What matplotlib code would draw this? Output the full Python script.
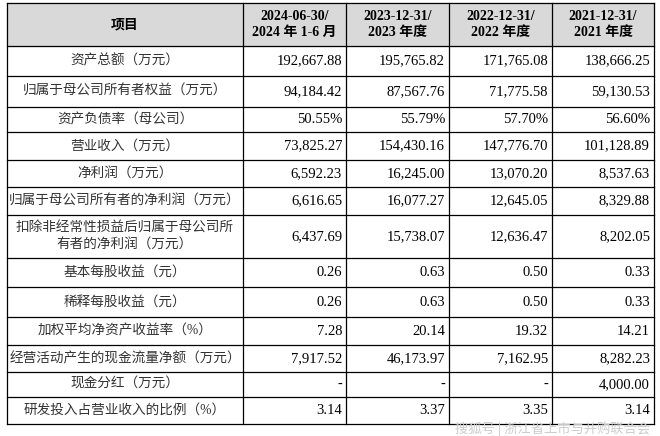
import matplotlib.pyplot as plt
from matplotlib.patches import Rectangle

plt.rcParams['font.family'] = ['Liberation Serif', 'Noto Sans CJK SC']

headers = ["项目", "2024-06-30/\n2024 年 1-6 月", "2023-12-31/\n2023 年度",
           "2022-12-31/\n2022 年度", "2021-12-31/\n2021 年度"]
items = ["资产总额（万元）", "归属于母公司所有者权益（万元）", "资产负债率（母公司）",
         "营业收入（万元）", "净利润（万元）", "归属于母公司所有者的净利润（万元）",
         "扣除非经常性损益后归属于母公司所\n有者的净利润（万元）", "基本每股收益（元）",
         "稀释每股收益（元）", "加权平均净资产收益率（%）", "经营活动产生的现金流量净额（万元）",
         "现金分红（万元）", "研发投入占营业收入的比例（%）"]
h1_2024 = ["192,667.88", "94,184.42", "50.55%", "73,825.27", "6,592.23", "6,616.65",
           "6,437.69", "0.26", "0.26", "7.28", "7,917.52", "-", "3.14"]
y2023 = ["195,765.82", "87,567.76", "55.79%", "154,430.16", "16,245.00", "16,077.27",
         "15,738.07", "0.63", "0.63", "20.14", "46,173.97", "-", "3.37"]
y2022 = ["171,765.08", "71,775.58", "57.70%", "147,776.70", "13,070.20", "12,645.05",
         "12,636.47", "0.50", "0.50", "19.32", "7,162.95", "-", "3.35"]
y2021 = ["138,666.25", "59,130.53", "56.60%", "101,128.89", "8,537.63", "8,329.88",
         "8,202.05", "0.33", "0.33", "14.21", "8,282.23", "4,000.00", "3.14"]

col_x = [7, 243, 346, 449, 552, 654]
row_y = [3, 46, 76, 107, 132, 160, 187, 215, 258, 287, 317, 345, 372, 397, 424]

fig = plt.figure(figsize=(6.6, 4.36), dpi=100)
ax = fig.add_axes([0, 0, 1, 1])
ax.set_xlim(0, 660)
ax.set_ylim(436, 0)
ax.axis('off')

ax.add_patch(Rectangle((col_x[0], row_y[0]), col_x[-1] - col_x[0], row_y[1] - row_y[0],
                       color='#d9d9d9', zorder=0))
for x in col_x:
    ax.plot([x, x], [row_y[0], row_y[-1]], color='black', lw=0.9)
for y in row_y:
    ax.plot([col_x[0], col_x[-1]], [y, y], color='black', lw=0.9)

for j, h in enumerate(headers):
    ax.text((col_x[j] + col_x[j + 1]) / 2, (row_y[0] + row_y[1]) / 2, h,
            ha='center', va='center', fontsize=10, fontweight='bold', linespacing=1.3)

cols = [h1_2024, y2023, y2022, y2021]
for i, name in enumerate(items):
    yc = (row_y[i + 1] + row_y[i + 2]) / 2
    ax.text((col_x[0] + col_x[1]) / 2, yc, name, ha='center', va='center',
            fontsize=9.8, color='#333333', linespacing=1.4)
    for j, c in enumerate(cols):
        ax.text(col_x[j + 2] - 4, yc, c[i], ha='right', va='center', fontsize=10.5)

ax.text(650, 429, "搜狐号 | 浙江省上市与并购联合会", ha='right', va='center',
        fontsize=9.5, color='#cccccc', family='Noto Sans CJK SC')

fig.savefig('out.png', dpi=100)
